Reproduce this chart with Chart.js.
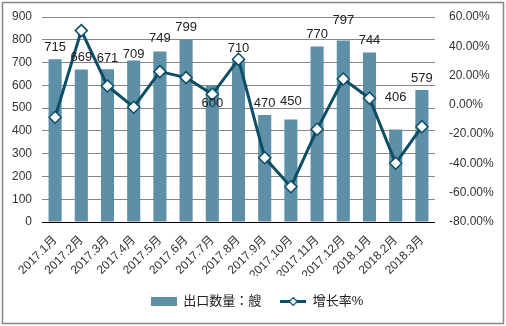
<!DOCTYPE html>
<html>
<head>
<meta charset="utf-8">
<title>出口数量</title>
<script src="https://cdn.jsdelivr.net/npm/chart.js@4/dist/chart.umd.min.js"></script>
<style>
    html, body { margin: 0; padding: 0; background: #fff; }
    #wrap { width: 506px; height: 326px; }
</style>
</head>
<body>
<div id="wrap"><canvas id="export-chart" width="506" height="326"></canvas></div>
<script>
// Monthly export counts and growth rate
const months = ["2017.1月", "2017.2月", "2017.3月", "2017.4月", "2017.5月", "2017.6月", "2017.7月", "2017.8月",
    "2017.9月", "2017.10月", "2017.11月", "2017.12月", "2018.1月", "2018.2月", "2018.3月"];
const exportCounts = [715, 669, 671, 709, 749, 799, 600, 710, 470, 450, 770, 797, 744, 406, 579];
const growthRates = [-8.5, 50.7, 12.9, -1.6, 22.7, 18.6, 7.2, 31.1, -36.1, -55.9, -16.7, 17.7, 4.5, -39.9, -14.9];
const countTicks = [0, 100, 200, 300, 400, 500, 600, 700, 800, 900];
const rateTicks = [-80, -60, -40, -20, 0, 20, 40, 60];
// vertical nudge of each value label from its bar top (px)
const labelShift = [-12, -12, -11, -6, -13, -13, 18, -12, -12, -18, -12, -20, -12, -32, -12];

const BAR_COLOR = "#5d8fa7";
const LINE_COLOR = "#0c4e66";
const FONT = "'Liberation Sans', Arial, 'Noto Sans CJK JP', sans-serif";

// Legend swatches
function makeSwatch(draw) {
    const c = document.createElement("canvas");
    c.width = 26;
    c.height = 13;
    draw(c.getContext("2d"));
    return c;
}
const barSwatch = makeSwatch(g => {
    g.fillStyle = BAR_COLOR;
    g.fillRect(0, 2, 26, 9);
});
const lineSwatch = makeSwatch(g => {
    g.strokeStyle = LINE_COLOR;
    g.lineWidth = 3;
    g.beginPath();
    g.moveTo(0, 6.5);
    g.lineTo(26, 6.5);
    g.stroke();
    g.fillStyle = "#fff";
    g.lineWidth = 1.2;
    g.beginPath();
    g.moveTo(13, 2.5);
    g.lineTo(17, 6.5);
    g.lineTo(13, 10.5);
    g.lineTo(9, 6.5);
    g.closePath();
    g.fill();
    g.stroke();
});

// White background and outer frame
const framePlugin = {
    id: "frame",
    beforeDraw(chart) {
        const c = chart.ctx;
        c.save();
        c.fillStyle = "#fff";
        c.fillRect(0, 0, chart.width, chart.height);
        c.strokeStyle = "#868686";
        c.lineWidth = 1.5;
        c.strokeRect(2.5, 2.5, chart.width - 5, chart.height - 5);
        c.restore();
    }
};

// Count labels above the bars
const barLabelPlugin = {
    id: "barLabels",
    afterDatasetsDraw(chart) {
        const c = chart.ctx;
        const meta = chart.getDatasetMeta(0);
        c.save();
        c.font = "13px " + FONT;
        c.fillStyle = "#222";
        c.textAlign = "center";
        c.textBaseline = "middle";
        meta.data.forEach((bar, i) => {
            c.fillText(String(exportCounts[i]), bar.x, bar.y + labelShift[i]);
        });
        c.restore();
    }
};

// fixed axis width; tick label padding should not push the plot area down
function fixWidth(width) {
    return scale => {
        scale.width = width;
        scale.paddingTop = 0;
        scale.paddingBottom = 0;
    };
}

document.addEventListener("DOMContentLoaded", () => {
    const ctx = document.getElementById("export-chart").getContext("2d");

    new Chart(ctx, {
        data: {
            labels: months,
            datasets: [
                {
                    type: "bar",
                    label: "出口数量：艘",
                    data: exportCounts,
                    backgroundColor: BAR_COLOR,
                    barPercentage: 0.5,
                    categoryPercentage: 1,
                    yAxisID: "y",
                    order: 2,
                },
                {
                    type: "line",
                    label: "增长率%",
                    data: growthRates,
                    borderColor: LINE_COLOR,
                    borderWidth: 3,
                    tension: 0,
                    pointStyle: "rectRot",
                    pointRadius: 6,
                    pointBorderWidth: 1.5,
                    pointBackgroundColor: "#fff",
                    pointBorderColor: LINE_COLOR,
                    yAxisID: "y1",
                    order: 1,
                },
            ],
        },
        options: {
            responsive: false,
            animation: false,
            layout: { padding: { left: 8, right: 0, top: 17, bottom: 8 } },
            plugins: {
                tooltip: { enabled: false },
                legend: {
                    position: "bottom",
                    labels: {
                        usePointStyle: true,
                        pointStyleWidth: 26,
                        boxHeight: 13,
                        padding: 19,
                        color: "#222",
                        font: { size: 13, family: FONT },
                        sort: (a, b) => a.datasetIndex - b.datasetIndex,
                        generateLabels: chart =>
                            Chart.defaults.plugins.legend.labels.generateLabels(chart).map(item => ({
                                ...item,
                                pointStyle: item.datasetIndex === 0 ? barSwatch : lineSwatch,
                            })),
                    },
                },
            },
            scales: {
                x: {
                    grid: { display: false },
                    border: { display: false },
                    ticks: {
                        autoSkip: false,
                        maxRotation: 45,
                        minRotation: 45,
                        color: "#333",
                        font: { size: 12, family: FONT },
                    },
                    afterFit: scale => { scale.height = 54; },
                },
                y: {
                    position: "left",
                    min: 0,
                    max: 900,
                    afterBuildTicks: scale => { scale.ticks = countTicks.map(v => ({ value: v })); },
                    grid: {
                        drawTicks: false,
                        color: c => (c.tick.value === 0 ? "#000" : "#868686"),
                    },
                    border: { display: false },
                    ticks: {
                        padding: 10,
                        color: "#333",
                        font: { size: 12, family: FONT },
                    },
                    afterFit: fixWidth(34),
                },
                y1: {
                    position: "right",
                    min: -80,
                    max: 60,
                    afterBuildTicks: scale => { scale.ticks = rateTicks.map(v => ({ value: v })); },
                    grid: { display: false, drawTicks: false },
                    border: { display: false },
                    ticks: {
                        padding: 14,
                        color: "#333",
                        font: { size: 12, family: FONT },
                        callback: v => v.toFixed(2) + "%",
                    },
                    afterFit: fixWidth(71),
                },
            },
        },
        plugins: [framePlugin, barLabelPlugin],
    });
});
</script>
</body>
</html>
